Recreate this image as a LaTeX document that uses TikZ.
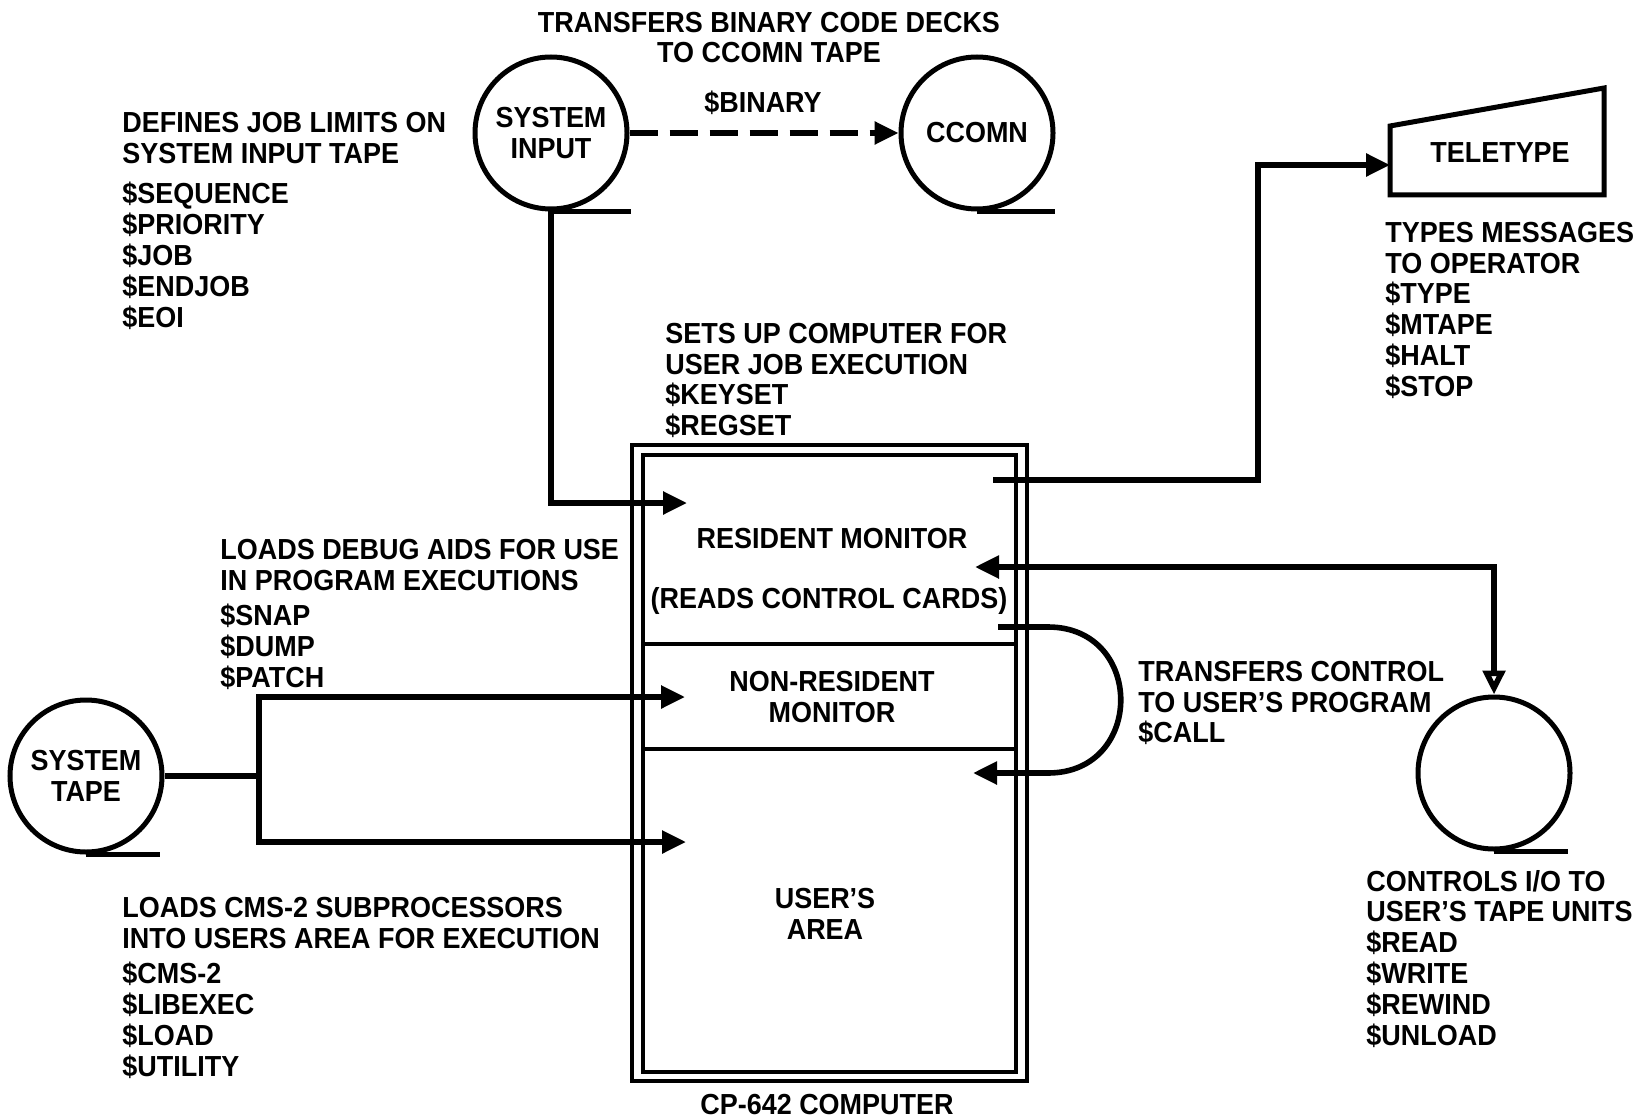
\documentclass[tikz,border=0pt]{standalone}
\usepackage{fontspec}
\setmainfont{Liberation Sans}[FakeStretch=0.93]
\usetikzlibrary{arrows.meta,calc}
\begin{document}
\begin{tikzpicture}[x=0.5pt,y=-0.5pt,
  txt/.style={font=\bfseries\fontsize{14.5}{15.4}\selectfont},
  lbl/.style={txt, inner sep=0, align=left, anchor=north west},
  ctr/.style={txt, inner sep=0, align=center, anchor=base},
  ctrn/.style={txt, inner sep=0, align=center, anchor=north},
  tape/.style={txt, circle, draw, line width=2.5pt, minimum size=76pt, inner sep=0, align=center},
  wall/.style={draw, line width=1.8pt, inner sep=0},
  ln/.style={line width=2.8pt},
  conn/.style={ln, -{Triangle[length=12pt,width=11pt]}},
]
\useasboundingbox (0,0) rectangle (1637,1118);

% ---- tapes
\node[tape] (sysin) at (551,133) {SYSTEM\\INPUT};
\node[tape] (ccomn) at (977,133) {CCOMN};
\node[tape] (systape) at (86,776) {SYSTEM\\TAPE};
\node[tape] (utape) at (1494,773) {};
\draw[line width=2.5pt] (sysin.south) -- ++(80,0);
\draw[line width=2.5pt] (ccomn.south) -- ++(78,0);
\draw[line width=2.5pt] (systape.south) -- ++(74,0);
\draw[line width=2.5pt] (utape.south) -- ++(74,0);

% ---- teletype
\draw[line width=2.5pt] (1390,195) -- (1390,126) -- (1604,88) -- (1604,195) -- cycle;
\node[txt, inner sep=0] (tty) at (1500,153) {TELETYPE};
\coordinate (ttyin) at (1390,165);

% ---- CP-642 computer
\node[wall, minimum width=197.5pt, minimum height=318pt] (outer) at (829.5,763) {};
\node[wall, minimum width=186.5pt, minimum height=94.5pt] (res) at (829.5,549.5) {};
\node[wall, minimum width=186.5pt, minimum height=52.5pt] (nonres) at (829.5,696.5) {};
\node[wall, minimum width=186.5pt, minimum height=161.5pt] (user) at (829.5,910.5) {};
\node[ctr] (restxt) at (832,548.5) {RESIDENT MONITOR};
\node[ctr] (readtxt) at (829,608.5) {(READS CONTROL CARDS)};
\node[ctrn] (nonrestxt) at (832,670.6) {NON-RESIDENT\\MONITOR};
\node[ctrn] (usertxt) at (825,887.6) {USER’S\\AREA};
\node[ctr] (cptxt) at (827,1114) {CP-642 COMPUTER};

% ---- connector end points
\coordinate (tip1) at (687,503);
\coordinate (j) at (259,776);
\coordinate (tip2) at (685,697);
\coordinate (tip3) at (686,842);
\coordinate (s4) at (993,480);
\coordinate (bend4) at (1258,480);
\coordinate (tip5) at (975,567);
\coordinate (s6) at (998,627);
\coordinate (c6a) at (1048,627);
\coordinate (c6b) at (1048,773);
\coordinate (tip6) at (973,773);

% ---- connectors
\draw[conn, dash pattern=on 14pt off 6pt] (sysin.east) -- (ccomn.west);
\draw[conn] (sysin.south) |- (tip1);
\draw[ln] (systape.east) -- (j);
\draw[conn] (j) |- (tip2);
\draw[conn] (j) |- (tip3);
\draw[conn] (s4) -- (bend4) |- (ttyin);
\draw[ln, {Triangle[length=12pt,width=11pt]}-{Triangle[open,length=12pt,width=11pt]}] (tip5) -| (utape.north);
\draw[conn] (s6) -- (c6a) .. controls +(97,0) and +(97,0) .. (c6b) -- (tip6);

% ---- labels
\node[ctrn] (binhead) at (769,11.5) {TRANSFERS BINARY CODE DECKS\\TO CCOMN TAPE};
\node[ctr] (binary) at (763,112.5) {\$BINARY};
\node[lbl] (deflbl) at (122,111.6) {DEFINES JOB LIMITS ON\\SYSTEM INPUT TAPE\\[5pt]\$SEQUENCE\\\$PRIORITY\\\$JOB\\\$ENDJOB\\\$EOI};
\node[lbl] (typlbl) at (1385,221.6) {TYPES MESSAGES\\TO OPERATOR\\\$TYPE\\\$MTAPE\\\$HALT\\\$STOP};
\node[lbl] (setlbl) at (665,322.6) {SETS UP COMPUTER FOR\\USER JOB EXECUTION\\\$KEYSET\\\$REGSET};
\node[lbl] (dbglbl) at (220,538.6) {LOADS DEBUG AIDS FOR USE\\IN PROGRAM EXECUTIONS\\[2.5pt]\$SNAP\\\$DUMP\\\$PATCH};
\node[lbl] (calllbl) at (1138,660.6) {TRANSFERS CONTROL\\TO USER’S PROGRAM\\\$CALL};
\node[lbl] (cmslbl) at (122,896.6) {LOADS CMS-2 SUBPROCESSORS\\INTO USERS AREA FOR EXECUTION\\[2.5pt]\$CMS-2\\\$LIBEXEC\\\$LOAD\\\$UTILITY};
\node[lbl] (iolbl) at (1366,869.6) {CONTROLS I/O TO\\USER’S TAPE UNITS\\\$READ\\\$WRITE\\\$REWIND\\\$UNLOAD};
\end{tikzpicture}
\end{document}
